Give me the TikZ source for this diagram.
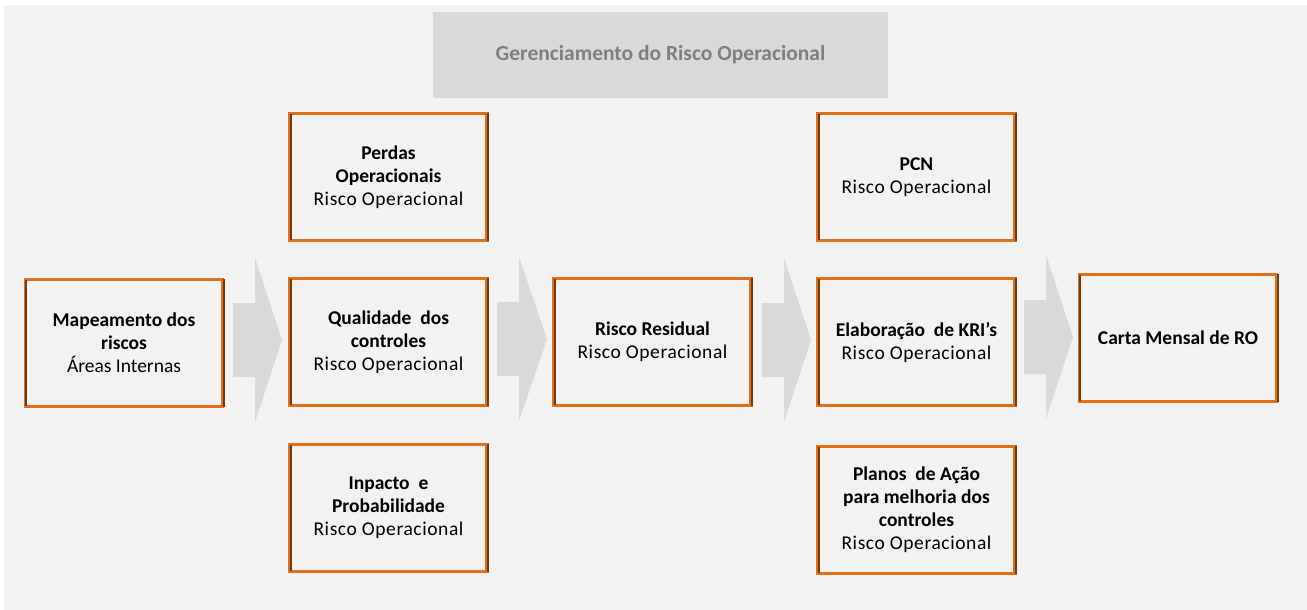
\documentclass[tikz,border=0pt]{standalone}
\usepackage{fontspec}
\setmainfont{Carlito}
\newfontfamily\spacedfont[LetterSpace=3]{Carlito}
\usetikzlibrary{calc}
\definecolor{bggray}{HTML}{F2F2F2}
\definecolor{hdrgray}{HTML}{D9D9D9}
\definecolor{arrgray}{HTML}{D9D9D9}
\definecolor{boxorange}{HTML}{E0701A}
\definecolor{boxbrown}{HTML}{6B3A12}
\definecolor{titlegray}{HTML}{7F7F7F}
\tikzset{
  procbox/.style={draw=boxorange, line width=3.4pt, fill=bggray, minimum width=197pt, minimum height=127pt,
    align=center, font=\fontsize{19.5}{23}\selectfont, text=black, inner sep=2pt},
  headbox/.style={fill=hdrgray, minimum width=455pt, minimum height=86pt, text=titlegray,
    font=\fontsize{21.5}{24}\selectfont\bfseries},
}
\newcommand{\ro}{{\spacedfont Risco Operacional}}
\newcommand{\shadebox}[1]{%
  \draw[boxbrown, line width=1.6pt] ($(#1.north west)+(2.4pt,-2.6pt)$) -- ($(#1.south west)+(2.4pt,2.6pt)$);
  \draw[boxbrown, line width=2pt] ($(#1.north east)+(-0.6pt,-1pt)$) -- ($(#1.south east)+(-0.6pt,1pt)$);
}
\newcommand{\blockarr}[3]{% left x, tip x, center y
  \fill[arrgray] (#1,#3-37) -- (#1+22,#3-37) -- (#1+22,#3-82) -- (#2,#3) -- (#1+22,#3+82) -- (#1+22,#3+37) -- (#1,#3+37) -- cycle;
}
\begin{document}
\begin{tikzpicture}[x=1pt,y=-1pt]
\useasboundingbox (0,0) rectangle (1307,610);
\fill[white] (0,0) rectangle (1307,610);
\fill[bggray] (4,5) rectangle (1307,610);

\node[headbox] (hdr) at (660.5,55) {Gerenciamento do Risco Operacional};

\node[procbox] (map) at (124,343) {\textbf{Mapeamento dos}\\\textbf{riscos}\\Áreas Internas};
\node[procbox] (perdas) at (388.5,177) {\textbf{Perdas}\\\textbf{Operacionais}\\\ro};
\node[procbox] (qual) at (388.5,342) {\textbf{Qualidade\ \ dos}\\\textbf{controles}\\\ro};
\node[procbox] (inp) at (388.5,508) {\textbf{Inpacto\ \ e}\\\textbf{Probabilidade}\\\ro};
\node[procbox] (res) at (652.5,342) {\textbf{Risco Residual}\\\ro};
\node[procbox] (pcn) at (916.5,177) {\textbf{PCN}\\\ro};
\node[procbox] (elab) at (916.5,342) {\textbf{Elaboração\ \ de KRI{\char"27}s}\\\ro};
\node[procbox] (plan) at (916.5,510) {\textbf{Planos\ \ de Ação}\\\textbf{para melhoria dos}\\\textbf{controles}\\\ro};
\node[procbox] (carta) at (1178,338) {\textbf{Carta Mensal de RO}};

\foreach \n in {map,perdas,qual,inp,res,pcn,elab,plan,carta} {\shadebox{\n}}

\blockarr{233}{282}{340}
\blockarr{497}{547}{339}
\blockarr{762}{811}{340}
\blockarr{1024}{1073}{337}
\end{tikzpicture}
\end{document}
